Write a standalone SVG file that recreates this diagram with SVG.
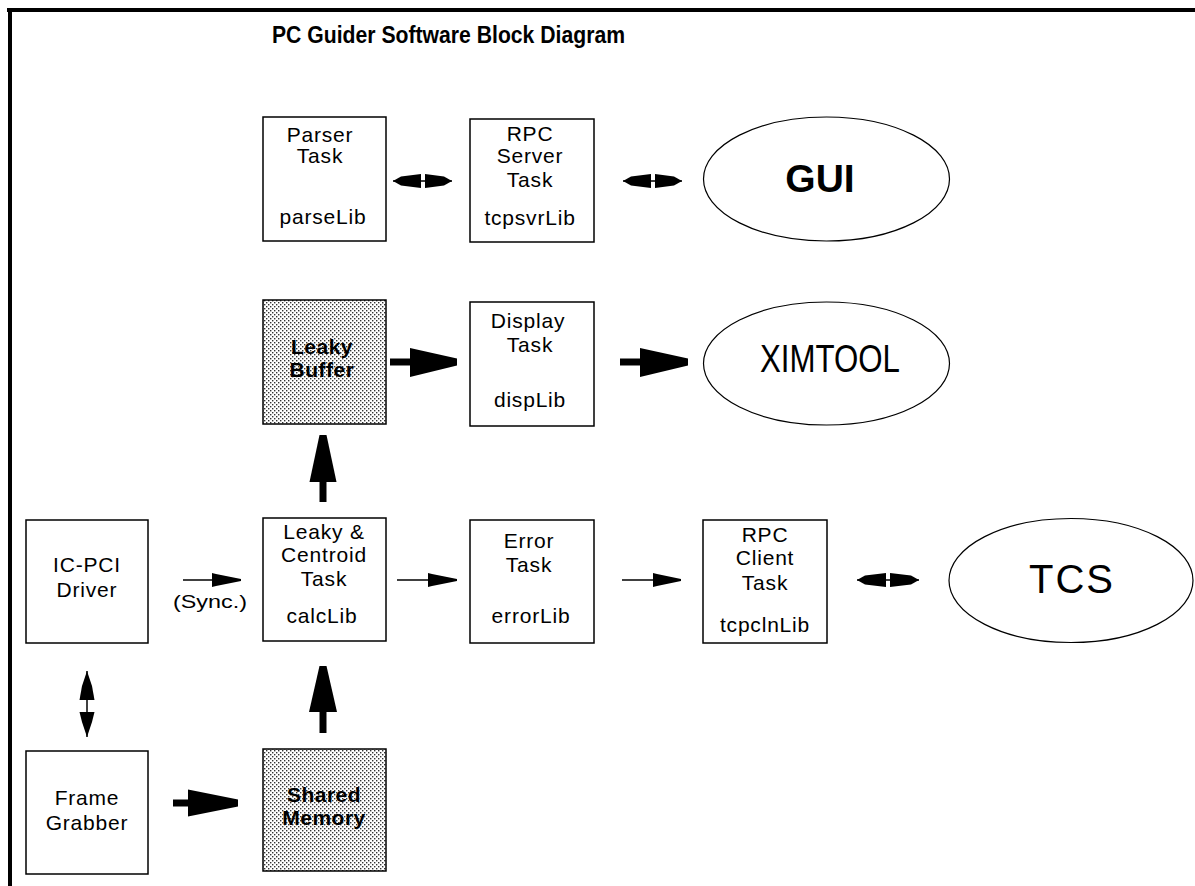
<svg xmlns="http://www.w3.org/2000/svg" width="1195" height="886" viewBox="0 0 1195 886">
<defs>
<pattern id="stip" width="4" height="4" patternUnits="userSpaceOnUse">
<rect width="4" height="4" fill="#ffffff"/>
<rect x="0" y="0" width="1.4" height="1.4" fill="#333"/>
<rect x="2" y="2" width="1.4" height="1.4" fill="#333"/>
</pattern>
</defs>
<style>
.box{fill:#fff;stroke:#000;stroke-width:1.5}
.hbox{fill:url(#stip);stroke:#000;stroke-width:1.5}
.ell{fill:#fff;stroke:#000;stroke-width:1.2}
.t{font-family:"Liberation Sans",Arial,sans-serif;font-size:21px;letter-spacing:0.8px;text-anchor:middle;fill:#000}
.tb{font-family:"Liberation Sans",Arial,sans-serif;font-size:21px;font-weight:bold;letter-spacing:0.5px;text-anchor:middle;fill:#000}
.title{font-family:"Liberation Sans",Arial,sans-serif;font-size:24px;font-weight:bold;fill:#000}
.line{stroke:#000;stroke-width:1.5;fill:none}
.thick{stroke:#000;stroke-width:7;fill:none}
.head{fill:#000;stroke:none}
</style>
<rect width="1195" height="886" fill="#fff"/>
<g id="frame">
<line x1="7" y1="10" x2="1195" y2="10" stroke="#000" stroke-width="4"/>
<line x1="10" y1="8" x2="10" y2="886" stroke="#000" stroke-width="4"/>
</g>
<text class="title" x="272" y="43" textLength="353" lengthAdjust="spacingAndGlyphs">PC Guider Software Block Diagram</text>

<g id="parser">
<rect class="box" x="263" y="117" width="123" height="124"/>
<text class="t" x="320" y="142">Parser</text>
<text class="t" x="320" y="163">Task</text>
<text class="t" x="323" y="224">parseLib</text>
</g>
<g id="rpcserver">
<rect class="box" x="470" y="119" width="124" height="123"/>
<text class="t" x="530" y="141">RPC</text>
<text class="t" x="530" y="163">Server</text>
<text class="t" x="530" y="187">Task</text>
<text class="t" x="530" y="225">tcpsvrLib</text>
</g>
<g id="gui">
<ellipse class="ell" cx="826.5" cy="179" rx="123" ry="62"/>
<text x="820" y="192" style="font-family:'Liberation Sans',Arial,sans-serif;font-size:39px;font-weight:bold;text-anchor:middle">GUI</text>
</g>

<g id="leakybuffer">
<rect class="hbox" x="263" y="300" width="123" height="124"/>
<text class="tb" x="322" y="354">Leaky</text>
<text class="tb" x="322" y="377">Buffer</text>
</g>
<g id="display">
<rect class="box" x="470" y="302" width="124" height="124"/>
<text class="t" x="528" y="328">Display</text>
<text class="t" x="530" y="352">Task</text>
<text class="t" x="530" y="407">dispLib</text>
</g>
<g id="ximtool">
<ellipse class="ell" cx="826.5" cy="363.5" rx="123" ry="61.5"/>
<text x="830" y="372" textLength="140" lengthAdjust="spacingAndGlyphs" style="font-family:'Liberation Sans',Arial,sans-serif;font-size:38px;text-anchor:middle">XIMTOOL</text>
</g>

<g id="icpci">
<rect class="box" x="26" y="520" width="122" height="123"/>
<text class="t" x="87" y="572">IC-PCI</text>
<text class="t" x="87" y="597">Driver</text>
</g>
<g id="calc">
<rect class="box" x="263" y="518" width="123" height="123"/>
<text class="t" x="324" y="539">Leaky &amp;</text>
<text class="t" x="324" y="562">Centroid</text>
<text class="t" x="324" y="586">Task</text>
<text class="t" x="322" y="623">calcLib</text>
</g>
<g id="error">
<rect class="box" x="470" y="520" width="124" height="123"/>
<text class="t" x="529" y="548">Error</text>
<text class="t" x="529" y="572">Task</text>
<text class="t" x="531" y="623">errorLib</text>
</g>
<g id="rpcclient">
<rect class="box" x="703" y="520" width="124" height="123"/>
<text class="t" x="765" y="542">RPC</text>
<text class="t" x="765" y="565">Client</text>
<text class="t" x="765" y="590">Task</text>
<text class="t" x="765" y="632">tcpclnLib</text>
</g>
<g id="tcs">
<ellipse class="ell" cx="1071" cy="580.5" rx="122" ry="62"/>
<text x="1072" y="593" style="font-family:'Liberation Sans',Arial,sans-serif;font-size:40px;letter-spacing:2px;text-anchor:middle">TCS</text>
</g>

<g id="framegrabber">
<rect class="box" x="26" y="751" width="122" height="123"/>
<text class="t" x="87" y="805">Frame</text>
<text class="t" x="87" y="830">Grabber</text>
</g>
<g id="sharedmemory">
<rect class="hbox" x="263" y="749" width="123" height="122"/>
<text class="tb" x="324" y="802">Shared</text>
<text class="tb" x="324" y="825">Memory</text>
</g>

<g id="connectors">
<line class="line" x1="393" y1="181" x2="452" y2="181"/>
<polygon class="head" points="393,181 401,176.5 421,174 421,188 401,185.5"/>
<polygon class="head" points="452,181 444,176.5 425,174 425,188 444,185.5"/>

<line class="line" x1="623" y1="181" x2="682" y2="181"/>
<polygon class="head" points="623,181 631,176.5 651,174 651,188 631,185.5"/>
<polygon class="head" points="682,181 674,176.5 655,174 655,188 674,185.5"/>

<line class="thick" x1="390" y1="362" x2="412" y2="362"/>
<polygon class="head" points="410,348 457,358.5 457,365.5 410,377"/>
<line class="thick" x1="620" y1="362" x2="642" y2="362"/>
<polygon class="head" points="640,348 688,358.5 688,365.5 640,377"/>

<line class="thick" x1="323" y1="502" x2="323" y2="480"/>
<polygon class="head" points="309.5,482 336.5,482 326.5,435 319.5,435"/>

<line class="line" x1="183" y1="580" x2="214" y2="580"/>
<polygon class="head" points="212,573 216,574 241,579 241,581 216,586 212,587"/>
<text x="210" y="608" textLength="74" lengthAdjust="spacingAndGlyphs" style="font-family:'Liberation Sans',Arial,sans-serif;font-size:19px;text-anchor:middle">(Sync.)</text>

<line class="line" x1="397" y1="580" x2="430" y2="580"/>
<polygon class="head" points="428,573 432,574 457,579 457,581 432,586 428,587"/>
<line class="line" x1="622" y1="580" x2="655" y2="580"/>
<polygon class="head" points="653,573 657,574 681,579 681,581 657,586 653,587"/>
<line class="line" x1="857" y1="580" x2="919" y2="580"/>
<polygon class="head" points="857,580 865,575.5 886,573 886,587 865,584.5"/>
<polygon class="head" points="919,580 911,575.5 890,573 890,587 911,584.5"/>

<line class="line" x1="87" y1="671" x2="87" y2="737"/>
<polygon class="head" points="87,671 82,686 79.5,700 94.5,700 92,686"/>
<polygon class="head" points="87,737 82,722 79.5,712 94.5,712 92,722"/>

<line class="thick" x1="173" y1="803" x2="190" y2="803"/>
<polygon class="head" points="188,789.5 238,799.5 238,806.5 188,816.5"/>

<line class="thick" x1="323" y1="733" x2="323" y2="710"/>
<polygon class="head" points="309,712 337,712 326.5,666 319.5,666"/>
</g>
</svg>
